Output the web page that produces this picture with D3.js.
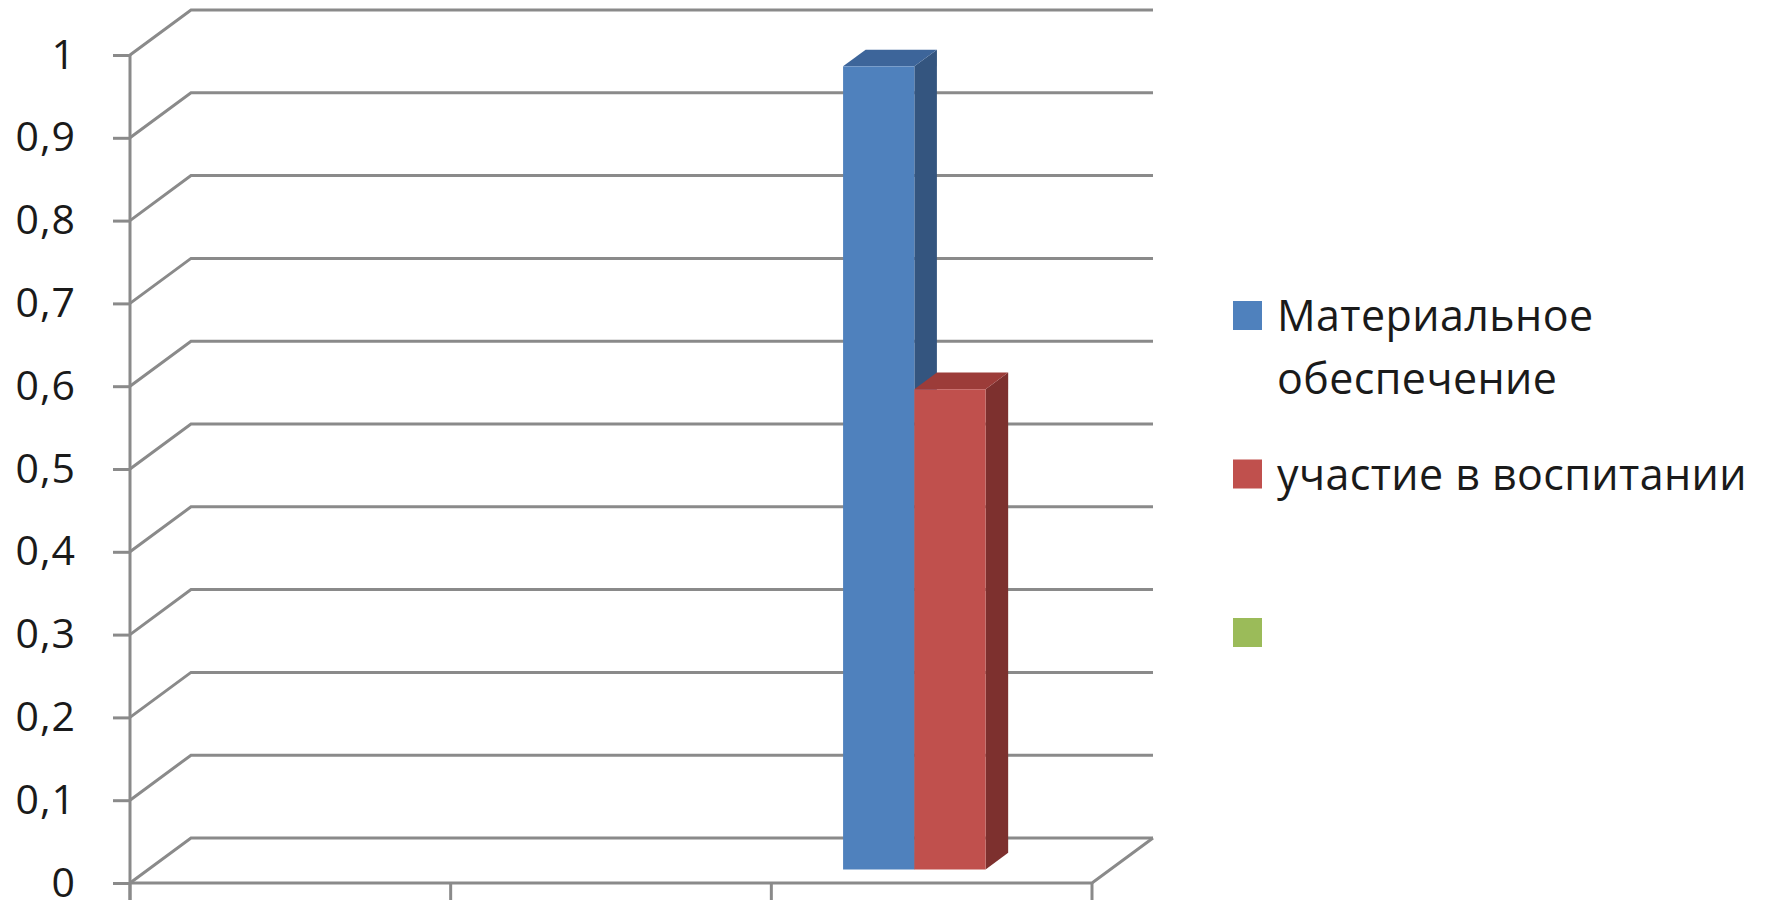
<!DOCTYPE html>
<html>
<head>
<meta charset="utf-8">
<script src="https://cdn.jsdelivr.net/npm/d3@7"></script>
<style>
  html, body { margin: 0; padding: 0; background: #fff; }
  svg { display: block; }
  text { font-family: "Open Sans", "Noto Sans", sans-serif; fill: #1a1a1a; }
</style>
</head>
<body>
<svg id="chart" width="1771" height="907"></svg>
<script>
// ---- data ----
const categories = ["1", "2", "3"];
const seriesNames = ["Материальное обеспечение", "участие в воспитании", ""];
const seriesMaterial = [null, null, 0.97];
const seriesUpbringing = [null, null, 0.58];
const seriesThird = [null, null, null];
const yTickValues = [0, 0.1, 0.2, 0.3, 0.4, 0.5, 0.6, 0.7, 0.8, 0.9, 1];
const seriesColors = [
  { front: "#4f81bd", side: "#34557f", top: "#3d659a" },
  { front: "#c0504d", side: "#7d302e", top: "#9c3c39" },
  { front: "#9bbb59", side: "#6a8a38", top: "#82a047" }
];

// ---- layout ----
const svg = d3.select("#chart");
const plotLeft = 130, plotRight = 1092, plotBottom = 883, plotTop = 55;
const depth = { dx: 61, dy: -45 };   // floor / wall depth
const barFront = 0.3, barDepth = 0.37; // fraction of depth

const x = d3.scaleBand().domain(categories).range([plotLeft, plotRight]).padding(0);
const y = d3.scaleLinear().domain([0, 1]).range([plotBottom, plotTop]);
const xs = d3.scaleBand().domain(d3.range(seriesNames.length))
  .range([0, x.bandwidth()]).paddingInner(0).paddingOuter(0.75);

const grid = "#8a8a8a";
const fmt = v => d3.format(".1~f")(v).replace(".", ",");

// gridlines (wall + side wall)
const g = svg.append("g");
yTickValues.forEach(t => {
  const yy = y(t);
  g.append("path")
    .attr("d", `M${plotLeft},${yy} L${plotLeft + depth.dx},${yy + depth.dy} L${plotRight + depth.dx},${yy + depth.dy}`)
    .attr("fill", "none").attr("stroke", grid).attr("stroke-width", 3);
});
// floor front edge and right edge
g.append("path")
  .attr("d", `M${plotLeft},${y(0)} L${plotRight},${y(0)} L${plotRight + depth.dx},${y(0) + depth.dy}`)
  .attr("fill", "none").attr("stroke", grid).attr("stroke-width", 3);

// y axis
const yAxis = d3.axisLeft(y).tickValues(yTickValues).tickFormat(fmt).tickSize(17).tickPadding(37);
const ya = svg.append("g").attr("transform", `translate(${plotLeft},0)`).call(yAxis);
ya.select(".domain").remove();
ya.selectAll(".tick line").attr("stroke", grid).attr("stroke-width", 3);
ya.selectAll(".tick text").attr("font-size", 41).attr("dy", "0.32em").attr("letter-spacing", 1)
  .attr("font-family", "'Open Sans', sans-serif").attr("fill", "#1a1a1a");
svg.append("line").attr("x1", plotLeft).attr("x2", plotLeft).attr("y1", plotTop).attr("y2", plotBottom + 17)
  .attr("stroke", grid).attr("stroke-width", 3);

// x axis ticks (category boundaries)
const bounds = categories.map(c => x(c)).concat([plotRight]);
svg.append("g").selectAll("line").data(bounds).join("line")
  .attr("x1", d => d).attr("x2", d => d).attr("y1", plotBottom).attr("y2", plotBottom + 17)
  .attr("stroke", grid).attr("stroke-width", 3);

// bars
const allSeries = [seriesMaterial, seriesUpbringing, seriesThird];
const fx = depth.dx * barFront, fy = depth.dy * barFront;
const bx = depth.dx * barDepth, by = depth.dy * barDepth;
const bars = svg.append("g");
allSeries.forEach((vals, si) => {
  vals.forEach((v, ci) => {
    if (v == null) return;
    const x0 = x(categories[ci]) + xs(si) + fx;
    const x1 = x0 + xs.bandwidth();
    const y0 = y(0) + fy;
    const y1 = y(v) + fy;
    const c = seriesColors[si];
    bars.append("path")
      .attr("d", `M${x1},${y1} L${x1 + bx},${y1 + by} L${x1 + bx},${y0 + by} L${x1},${y0} Z`)
      .attr("fill", c.side);
    bars.append("path")
      .attr("d", `M${x0},${y1} L${x0 + bx},${y1 + by} L${x1 + bx},${y1 + by} L${x1},${y1} Z`)
      .attr("fill", c.top);
    bars.append("rect").attr("x", x0).attr("y", y1).attr("width", x1 - x0).attr("height", y0 - y1)
      .attr("fill", c.front);
  });
});

// legend
const leg = svg.append("g");
const legX = 1233, legTop = 301, legStep = 158.5, sq = 29, maxW = 500;
seriesNames.forEach((name, i) => {
  const ty = legTop + i * legStep;
  leg.append("rect").attr("x", legX).attr("y", ty).attr("width", sq).attr("height", sq)
    .attr("fill", seriesColors[i].front);
  const t = leg.append("text").attr("x", legX + 44).attr("y", ty + 30).attr("font-size", 43)
    .attr("letter-spacing", 0.4);
  const words = name.split(" ").filter(w => w.length);
  let line = [];
  let tspan = t.append("tspan").attr("x", legX + 44).attr("dy", 0);
  words.forEach(w => {
    line.push(w);
    tspan.text(line.join(" "));
    if (tspan.node().getComputedTextLength() > maxW && line.length > 1) {
      line.pop();
      tspan.text(line.join(" "));
      line = [w];
      tspan = t.append("tspan").attr("x", legX + 44).attr("dy", 63).text(w);
    }
  });
});
</script>
</body>
</html>
